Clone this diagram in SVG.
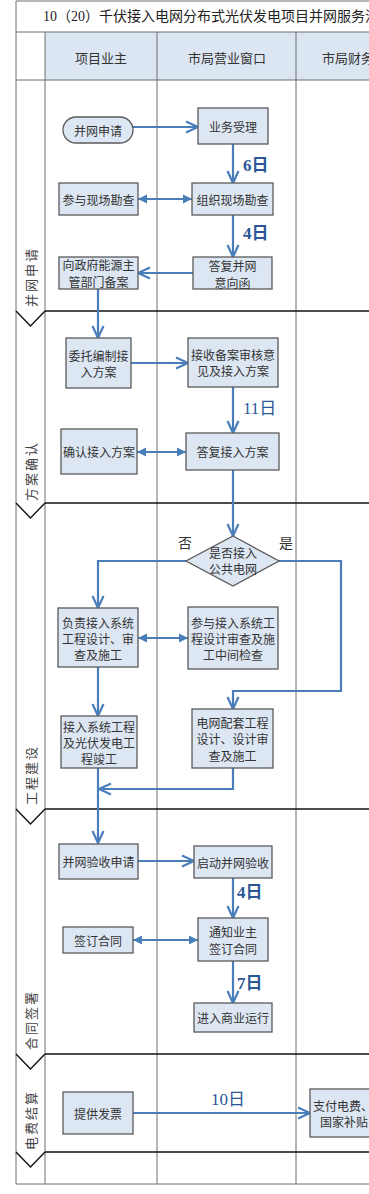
<svg xmlns="http://www.w3.org/2000/svg" width="369" height="1194" viewBox="0 0 369 1194">
<defs>
<style>
.grid{stroke:#6e6e6e;stroke-width:1;fill:none}
.sep{stroke:#111;stroke-width:1.4;fill:none}
.box{fill:#dde7f3;stroke:#5a5a5a;stroke-width:1.3}
.t{font-family:"Noto Sans CJK SC","Noto Sans",sans-serif;font-size:12px;fill:#333;text-anchor:middle;dominant-baseline:central}
.hd{font-family:"Noto Sans CJK SC","Noto Sans",sans-serif;font-size:13px;fill:#333;text-anchor:middle;dominant-baseline:central}
.ph{font-family:"Noto Sans CJK SC","Noto Sans",sans-serif;font-size:13px;fill:#444;text-anchor:middle;dominant-baseline:central;letter-spacing:2px}
.day{font-family:"Liberation Serif","Noto Sans CJK SC",serif;font-size:17px;fill:#2b5797;font-weight:bold}
.dayn{font-family:"Liberation Serif","Noto Sans CJK SC",serif;font-size:17px;fill:#2b5797}
.yn{font-family:"Noto Sans CJK SC",sans-serif;font-size:14px;fill:#333;text-anchor:middle;dominant-baseline:central}
.c{stroke:#4a7ebb;stroke-width:2.2;fill:none}
</style>
<marker id="open" markerUnits="userSpaceOnUse" viewBox="-15 -8 17 16" refX="0" refY="0" markerWidth="17" markerHeight="16" orient="auto">
<path d="M-12,-5.5 L0,0 L-12,5.5" fill="none" stroke="#4a7ebb" stroke-width="2.2"/>
</marker>
<marker id="tri" markerUnits="userSpaceOnUse" viewBox="-10 -6 11 12" refX="0" refY="0" markerWidth="11" markerHeight="12" orient="auto-start-reverse">
<path d="M-9,-4.5 L0,0 L-9,4.5 Z" fill="#4a7ebb"/>
</marker>
</defs>
<rect width="369" height="1194" fill="#fff"/>
<g id="frame">
<rect x="45" y="32" width="330" height="48" fill="#dce6f2"/>
<path class="grid" d="M16,1 H375 M16,1 V1184 H375 M16,32 H375 M16,80 H375 M45,32 V1184 M157,32 V1184 M296,32 V1184"/>
<path class="sep" d="M45,311 H375 M16,311 L30.5,326 L45,311 M45,503 H375 M16,503 L30.5,518 L45,503 M45,809 H375 M16,809 L30.5,824 L45,809 M45,1054 H375 M16,1054 L30.5,1069 L45,1054 M45,1152 H375 M16,1152 L30.5,1167 L45,1152"/>
<text x="43" y="21" font-family="Liberation Serif,Noto Sans CJK SC,serif" font-size="14" fill="#222">10（20）千伏接入电网分布式光伏发电项目并网服务流</text>
<text class="hd" x="101" y="57">项目业主</text>
<text class="hd" x="227" y="57">市局营业窗口</text>
<text class="hd" x="322" y="57" style="text-anchor:start">市局财务</text>
<text class="ph" x="30" y="277" transform="rotate(-90 30 277)">并网申请</text>
<text class="ph" x="30" y="471" transform="rotate(-90 30 471)">方案确认</text>
<text class="ph" x="30" y="775" transform="rotate(-90 30 775)">工程建设</text>
<text class="ph" x="30" y="1020" transform="rotate(-90 30 1020)">合同签署</text>
<text class="ph" x="30" y="1120" transform="rotate(-90 30 1120)">电费结算</text>
</g>
<g id="connectors">
<path class="c" d="M133,127 H198" marker-end="url(#open)"/>
<path class="c" d="M233,144 V183" marker-end="url(#open)"/>
<path class="c" d="M138,199 H192" marker-start="url(#tri)" marker-end="url(#tri)"/>
<path class="c" d="M233,215 V257" marker-end="url(#open)"/>
<path class="c" d="M193,273 H138" marker-end="url(#open)"/>
<path class="c" d="M98,289 V338" marker-end="url(#open)"/>
<path class="c" d="M131,363 H188" marker-end="url(#open)"/>
<path class="c" d="M233,387 V433" marker-end="url(#open)"/>
<path class="c" d="M137,452 H186" marker-start="url(#tri)" marker-end="url(#tri)"/>
<path class="c" d="M233,470 V536" marker-end="url(#open)"/>
<path class="c" d="M186,561 H98 V608" marker-end="url(#open)"/>
<path class="c" d="M279,561 H341 V691 H233 V709" marker-end="url(#open)"/>
<path class="c" d="M138,638 H188" marker-start="url(#tri)" marker-end="url(#tri)"/>
<path class="c" d="M98,667 V716" marker-end="url(#open)"/>
<path class="c" d="M233,768 V789 H99" marker-end="url(#open)"/>
<path class="c" d="M98,768 V843" marker-end="url(#open)"/>
<path class="c" d="M138,861 H194" marker-end="url(#open)"/>
<path class="c" d="M233,878 V918" marker-end="url(#open)"/>
<path class="c" d="M133,940 H198" marker-start="url(#tri)" marker-end="url(#tri)"/>
<path class="c" d="M233,961 V1003" marker-end="url(#open)"/>
<path class="c" d="M133,1113 H310" marker-end="url(#open)"/>
<text class="day" x="243" y="171">6日</text>
<text class="day" x="243" y="239">4日</text>
<text class="dayn" x="243" y="414">11日</text>
<text class="day" x="237" y="898">4日</text>
<text class="day" x="237" y="989">7日</text>
<text class="dayn" x="228" y="1105" text-anchor="middle">10日</text>
<text class="yn" x="185" y="542">否</text>
<text class="yn" x="286" y="542">是</text>
</g>
<g id="n1"><rect class="box" x="63" y="117" width="70" height="26" rx="13"/><text class="t" x="98" y="130">并网申请</text></g>
<g id="n2"><rect class="box" x="198" y="108" width="70" height="36"/><text class="t" x="233" y="126">业务受理</text></g>
<g id="n3"><rect class="box" x="192" y="183" width="81" height="32"/><text class="t" x="232.5" y="199">组织现场勘查</text></g>
<g id="n4"><rect class="box" x="59" y="183" width="79" height="32"/><text class="t" x="98.5" y="199">参与现场勘查</text></g>
<g id="n5"><rect class="box" x="193" y="257" width="79" height="32"/><text class="t" x="232.5" y="265">答复并网</text><text class="t" x="232.5" y="282">意向函</text></g>
<g id="n6"><rect class="box" x="59" y="257" width="79" height="32"/><text class="t" x="98.5" y="264.5">向政府能源主</text><text class="t" x="98.5" y="281.5">管部门备案</text></g>
<g id="n7"><rect class="box" x="66" y="338" width="65" height="50"/><text class="t" x="98.5" y="355">委托编制接</text><text class="t" x="98.5" y="371">入方案</text></g>
<g id="n8"><rect class="box" x="188" y="338" width="90" height="49"/><text class="t" x="233" y="354.5">接收备案审核意</text><text class="t" x="233" y="370.5">见及接入方案</text></g>
<g id="n9"><rect class="box" x="186" y="433" width="93" height="37"/><text class="t" x="232.5" y="451.5">答复接入方案</text></g>
<g id="n10"><rect class="box" x="61" y="429" width="76" height="45"/><text class="t" x="99" y="451.5">确认接入方案</text></g>
<g id="n11"><polygon class="box" points="233,536 279,561 233,586 186,561"/><text class="t" x="233" y="552">是否接入</text><text class="t" x="233" y="568">公共电网</text></g>
<g id="n12"><rect class="box" x="58" y="608" width="80" height="59"/><text class="t" x="98" y="622">负责接入系统</text><text class="t" x="98" y="638">工程设计、审</text><text class="t" x="98" y="654">查及施工</text></g>
<g id="n13"><rect class="box" x="188" y="607" width="90" height="62"/><text class="t" x="233" y="622">参与接入系统工</text><text class="t" x="233" y="638">程设计审查及施</text><text class="t" x="233" y="654">工中间检查</text></g>
<g id="n14"><rect class="box" x="61" y="716" width="76" height="52"/><text class="t" x="99" y="726">接入系统工程</text><text class="t" x="99" y="742">及光伏发电工</text><text class="t" x="99" y="758">程竣工</text></g>
<g id="n15"><rect class="box" x="192" y="709" width="81" height="59"/><text class="t" x="232.5" y="722">电网配套工程</text><text class="t" x="232.5" y="738.5">设计、设计审</text><text class="t" x="232.5" y="755">查及施工</text></g>
<g id="n16"><rect class="box" x="59" y="844" width="79" height="35"/><text class="t" x="98.5" y="861.5">并网验收申请</text></g>
<g id="n17"><rect class="box" x="194" y="846" width="78" height="32"/><text class="t" x="233" y="862">启动并网验收</text></g>
<g id="n18"><rect class="box" x="198" y="918" width="70" height="43"/><text class="t" x="233" y="931">通知业主</text><text class="t" x="233" y="948">签订合同</text></g>
<g id="n19"><rect class="box" x="63" y="927" width="70" height="26"/><text class="t" x="98" y="940">签订合同</text></g>
<g id="n20"><rect class="box" x="194" y="1003" width="78" height="29"/><text class="t" x="233" y="1017.5">进入商业运行</text></g>
<g id="n21"><rect class="box" x="63" y="1092" width="70" height="42"/><text class="t" x="98" y="1113">提供发票</text></g>
<g id="n22"><rect class="box" x="310" y="1089" width="80" height="48"/><text class="t" x="313" y="1105" style="text-anchor:start">支付电费、</text><text class="t" x="320" y="1121" style="text-anchor:start">国家补贴</text></g>
</svg>
